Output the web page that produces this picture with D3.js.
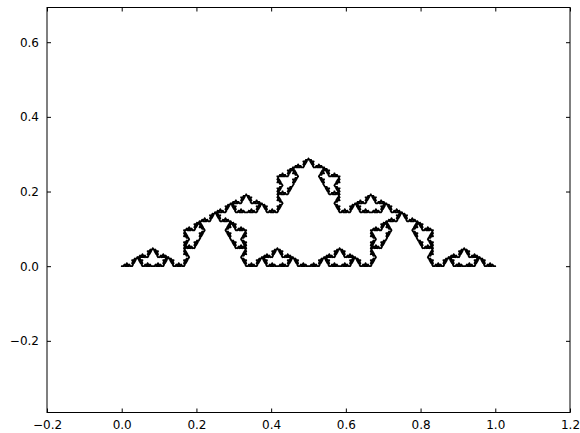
<!DOCTYPE html>
<html>
<head>
	<meta charset="utf-8">
	<title></title>
	<style>
		body { margin: 0; background: #fff; }
		text { font-family: "DejaVu Sans", sans-serif; font-size: 12px; fill: #000; }
	</style>
</head>
<body>
	<svg id="container" width="580" height="433"></svg>
</body>
<script src="https://cdn.jsdelivr.net/npm/d3@7"></script>
<script>
	// generator: 12 edges on a triangular lattice (x in 1/12, y in sqrt(3)/12)
	const genEdges = [
		[0, 0, 2, 0], [2, 0, 3, 1], [3, 1, 4, 0], [4, 0, 6, 0],
		[6, 0, 8, 0], [8, 0, 9, 1], [9, 1, 10, 0], [10, 0, 12, 0],
		[3, 1, 5, 1], [5, 1, 6, 2], [6, 2, 7, 1], [7, 1, 9, 1]
	]
	const levels = 3
	const xTicks = [-0.2, 0.0, 0.2, 0.4, 0.6, 0.8, 1.0, 1.2]
	const yTicks = [-0.2, 0.0, 0.2, 0.4, 0.6]
	const xDomain = [-0.2, 1.2]
	const yDomain = [-0.392, 0.693]

	let plotLeft = 47, plotRight = 570, plotTop = 7.5, plotBottom = 412.5

	let x = d3.scaleLinear().domain(xDomain).range([plotLeft, plotRight])
	let y = d3.scaleLinear().domain(yDomain).range([plotBottom, plotTop])

	let unit = genEdges.map(e => [e[0] / 12, e[1] * Math.sqrt(3) / 12, e[2] / 12, e[3] * Math.sqrt(3) / 12])

	// replace each segment by the generator, mapped onto it
	let segs = [[0, 0, 1, 0]]
	for (let i = 0; i < levels; i++) {
		let next = []
		segs.forEach(s => {
			let dx = s[2] - s[0], dy = s[3] - s[1]
			unit.forEach(u => {
				next.push([
					s[0] + u[0] * dx - u[1] * dy, s[1] + u[0] * dy + u[1] * dx,
					s[0] + u[2] * dx - u[3] * dy, s[1] + u[2] * dy + u[3] * dx
				])
			})
		})
		segs = next
	}

	let svg = d3.select("#container")

	let p = d3.path()
	segs.forEach(s => {
		p.moveTo(x(s[0]), y(s[1]))
		p.lineTo(x(s[2]), y(s[3]))
	})
	svg.append("path")
		.attr("d", p.toString())
		.attr("fill", "none")
		.attr("stroke", "#000")
		.attr("stroke-width", 1.8)
		.attr("stroke-linecap", "round")

	let fmt = d => d3.format(".1f")(d).replace("-", "\u2212")

	// axes: ticks point inward, on all four sides
	svg.append("g").attr("transform", `translate(0,${plotBottom})`)
		.call(d3.axisBottom(x).tickValues(xTicks).tickSizeInner(-4).tickSizeOuter(0).tickPadding(8).tickFormat(fmt))
	svg.append("g").attr("transform", `translate(0,${plotTop})`)
		.call(d3.axisTop(x).tickValues(xTicks).tickSizeInner(-4).tickSizeOuter(0).tickFormat(""))
	svg.append("g").attr("transform", `translate(${plotLeft},0)`)
		.call(d3.axisLeft(y).tickValues(yTicks).tickSizeInner(-4).tickSizeOuter(0).tickPadding(8).tickFormat(fmt))
	svg.append("g").attr("transform", `translate(${plotRight},0)`)
		.call(d3.axisRight(y).tickValues(yTicks).tickSizeInner(-4).tickSizeOuter(0).tickFormat(""))

	svg.selectAll(".domain").remove()
	svg.selectAll(".tick text").attr("font-size", 12.5).attr("font-family", "DejaVu Sans")

	svg.append("rect")
		.attr("x", plotLeft).attr("y", plotTop)
		.attr("width", plotRight - plotLeft).attr("height", plotBottom - plotTop)
		.attr("fill", "none").attr("stroke", "#000").attr("stroke-width", 1)
</script>
</html>
